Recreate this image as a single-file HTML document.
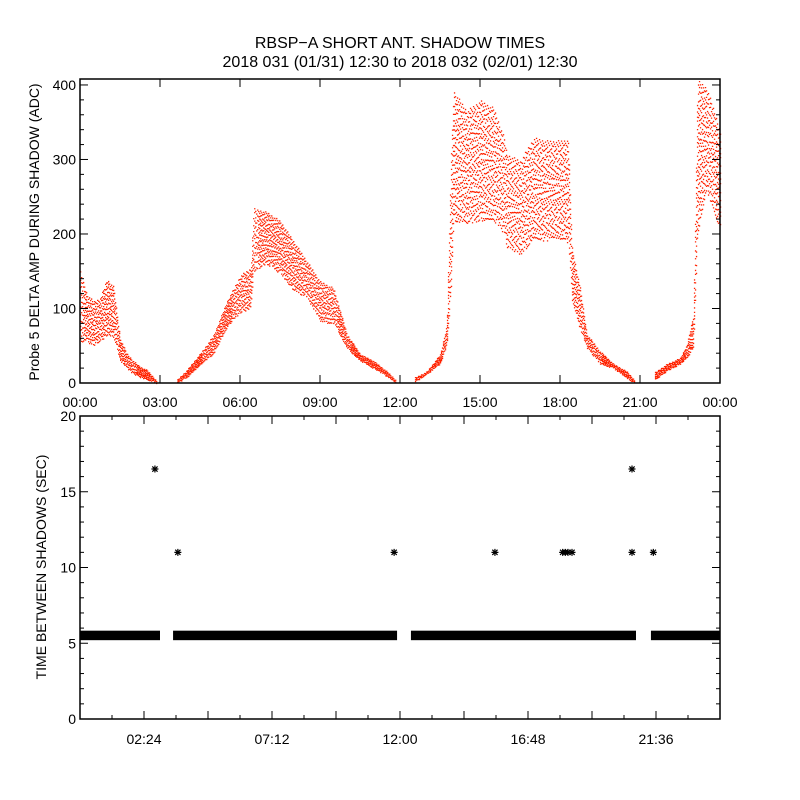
<!DOCTYPE html>
<html><head><meta charset="utf-8">
<style>
html,body{margin:0;padding:0;background:#fff;}
svg{display:block;}
text{font-family:"Liberation Sans","DejaVu Sans",sans-serif;fill:#000;}
</style></head>
<body>
<svg id="chart" width="800" height="800" viewBox="0 0 800 800" xmlns="http://www.w3.org/2000/svg">
<rect width="800" height="800" fill="#fff"/>
<text x="400" y="48" text-anchor="middle" font-size="16">RBSP−A SHORT ANT. SHADOW TIMES</text>
<text x="400" y="67" text-anchor="middle" font-size="16">2018 031 (01/31) 12:30 to 2018 032 (02/01) 12:30</text>
<g id="topPanel"></g>
<g id="botPanel"></g>
</svg>
<script>
// Top panel: envelope of Probe 5 delta amplitude (hours, low, high), per contiguous segment
const ampSeg1T = [0,0.25,0.5,0.75,1.0,1.25,1.5,1.75,2.0,2.25,2.5,2.75,2.85];
const ampSeg1Lo = [55,55,50,55,65,60,30,20,12,8,5,2,0];
const ampSeg1Hi = [150,120,110,115,140,130,60,40,30,22,18,8,4];
const ampSeg2T = [3.64,4.0,4.5,5.0,5.5,6.0,6.4,6.5,7.0,7.5,8.0,8.5,9.0,9.5,10.0,10.5,11.0,11.5,11.85];
const ampSeg2Lo = [0,8,25,40,75,95,100,150,160,147,124,115,83,79,47,30,20,9,0];
const ampSeg2Hi = [5,18,40,65,110,145,155,235,230,218,191,164,137,128,66,39,30,16,4];
const ampSeg3T = [12.56,13.0,13.5,13.75,13.9,14.0,14.5,15.0,15.5,15.9,16.0,16.5,17.0,17.5,18.0,18.3,18.45,18.75,19.0,19.5,20.0,20.5,20.8];
const ampSeg3Lo = [2,12,26,52,120,218,214,218,218,200,182,173,191,191,191,187,110,70,47,26,20,7,0];
const ampSeg3Hi = [8,16,39,79,300,393,366,380,370,330,308,299,330,326,326,328,180,128,66,43,26,16,4];
const ampSeg4T = [21.56,22.0,22.5,22.75,23.0,23.15,23.5,24.0];
const ampSeg4Lo = [5,16,26,34,47,200,258,205];
const ampSeg4Hi = [15,26,34,52,93,407,397,340];
const ampSegT = [ampSeg1T,ampSeg2T,ampSeg3T,ampSeg4T];
const ampSegLo = [ampSeg1Lo,ampSeg2Lo,ampSeg3Lo,ampSeg4Lo];
const ampSegHi = [ampSeg1Hi,ampSeg2Hi,ampSeg3Hi,ampSeg4Hi];
const topXTicks = ["00:00","03:00","06:00","09:00","12:00","15:00","18:00","21:00","00:00"];
const topYTicks = [0,100,200,300,400];

// Bottom panel: time between shadows
const gapBandStart = [0,3.49,12.41,21.41];
const gapBandEnd = [3.0,11.89,20.85,24.0];
const gapBandValue = [5.5,5.5,5.5,5.5];
const outlierT = [2.81,3.67,11.78,15.56,18.1,18.2,18.3,18.45,20.7,20.7,21.5];
const outlierV = [16.5,11.0,11.0,11.0,11.0,11.0,11.0,11.0,16.5,11.0,11.0];
const botXTicks = ["02:24","07:12","12:00","16:48","21:36"];
const botXTickHours = [2.4,7.2,12.0,16.8,21.6];
const botYTicks = [0,5,10,15,20];

const NS="http://www.w3.org/2000/svg";
function mk(tag,attrs,parent){const e=document.createElementNS(NS,tag);for(const k in attrs)e.setAttribute(k,attrs[k]);parent.appendChild(e);return e;}
const L=80,R=720;
const xs=h=>L+(R-L)*h/24;
const T0=383,T1=79, ys1=v=>T0-(v/408)*(T0-T1);
const B0=719,B1=416, ys2=v=>B0-(v/20)*(B0-B1);

const topG=document.getElementById('topPanel');
const botG=document.getElementById('botPanel');

const dots=mk('g',{},topG);


function interp(ts,vs,t){
  if(t<=ts[0])return vs[0];
  for(let i=0;i<ts.length-1;i++){if(t>=ts[i]&&t<=ts[i+1]){const f=(t-ts[i])/(ts[i+1]-ts[i]||1);return vs[i]+f*(vs[i+1]-vs[i]);}}
  return vs[vs.length-1];
}
let d="";
for(let s=0;s<ampSegT.length;s++){
  const ts=ampSegT[s],lo=ampSegLo[s],hi=ampSegHi[s];
  const x0=xs(ts[0]),x1=xs(ts[ts.length-1]);
  let col=0;
  for(let x=x0;x<=x1;x+=1,col++){
    const t=Math.min(Math.max((x-L)*24/(R-L),ts[0]),ts[ts.length-1]);
    const vl=interp(ts,lo,t),vh=interp(ts,hi,t);
    const yTop=ys1(vh),yBot=ys1(vl);
    const span=yBot-yTop;
    const step=span<12?1.6:(span<30?2.6:(span<60?4:6.5));
    let y=yTop+((col*37)%11)/11*step, k=0;
    while(y<=yBot){
      d+=`M${x.toFixed(1)} ${y.toFixed(1)}h1.3v1.3h-1.3z`;
      k++;
      y+=step*(0.6+((col*13+k*7)%9)/10);
    }
  }
}
const p=mk('path',{d:d,fill:'#ff2200'},dots);



const tf=mk('rect',{x:L,y:T1,width:R-L,height:T0-T1,fill:'none',stroke:'#000','stroke-width':1.5},topG);


const tax=mk('g',{},topG);


topXTicks.forEach((lab,i)=>{
  const x=xs(i*3);
  mk('line',{x1:x,x2:x,y1:T0,y2:T0-8,stroke:'#000'},tax);
  mk('line',{x1:x,x2:x,y1:T1,y2:T1+8,stroke:'#000'},tax);
  const t=mk('text',{x:x,y:407,'text-anchor':'middle','font-size':14},tax);
  t.textContent=lab;
  
  
});
for(let v=0;v<=400;v+=20){
  const y=ys1(v),len=(v%100===0)?8:4;
  mk('line',{x1:L,x2:L+len,y1:y,y2:y,stroke:'#000'},tax);
  mk('line',{x1:R,x2:R-len,y1:y,y2:y,stroke:'#000'},tax);
}
topYTicks.forEach(v=>{
  const t=mk('text',{x:76,y:ys1(v)+5,'text-anchor':'end','font-size':14},tax);
  t.textContent=v;
  
  
});
const ty=mk('text',{x:0,y:0,'text-anchor':'middle','font-size':14,transform:`translate(39,232) rotate(-90)`},topG);
ty.textContent="Probe 5 DELTA AMP DURING SHADOW (ADC)";



const bands=mk('g',{},botG);


gapBandStart.forEach((s,i)=>{
  const yc=ys2(gapBandValue[i]);
  const r=mk('rect',{x:xs(s),y:yc-5,width:xs(gapBandEnd[i])-xs(s),height:9.5,fill:'#000'},bands);
  
  
});
const outs=mk('g',{stroke:'#000','stroke-width':1.2},botG);


outlierT.forEach((t,i)=>{
  const x=xs(t),y=ys2(outlierV[i]),r=3.5;
  const g=mk('path',{d:`M${x-r} ${y}H${x+r}M${x} ${y-r}V${y+r}M${x-r*0.75} ${y-r*0.75}L${x+r*0.75} ${y+r*0.75}M${x-r*0.75} ${y+r*0.75}L${x+r*0.75} ${y-r*0.75}`},outs);
  
  
});
const bf=mk('rect',{x:L,y:B1,width:R-L,height:B0-B1,fill:'none',stroke:'#000','stroke-width':1.5},botG);


const bax=mk('g',{},botG);


for(let k=1;k<20;k++){
  const h=k*1.2,x=xs(h),len=(k%2===0)?8:4;
  mk('line',{x1:x,x2:x,y1:B0,y2:B0-len,stroke:'#000'},bax);
  mk('line',{x1:x,x2:x,y1:B1,y2:B1+len,stroke:'#000'},bax);
}
botXTicks.forEach((lab,i)=>{
  const t=mk('text',{x:xs(botXTickHours[i]),y:744,'text-anchor':'middle','font-size':14},bax);
  t.textContent=lab;
  
  
});
for(let v=0;v<=20;v+=1){
  const y=ys2(v),len=(v%5===0)?8:4;
  mk('line',{x1:L,x2:L+len,y1:y,y2:y,stroke:'#000'},bax);
  mk('line',{x1:R,x2:R-len,y1:y,y2:y,stroke:'#000'},bax);
}
botYTicks.forEach(v=>{
  const t=mk('text',{x:76,y:ys2(v)+5,'text-anchor':'end','font-size':14},bax);
  t.textContent=v;
  
  
});
const by=mk('text',{x:0,y:0,'text-anchor':'middle','font-size':14,transform:`translate(46,567) rotate(-90)`},botG);
by.textContent="TIME BETWEEN SHADOWS (SEC)";


</script>
</body></html>
